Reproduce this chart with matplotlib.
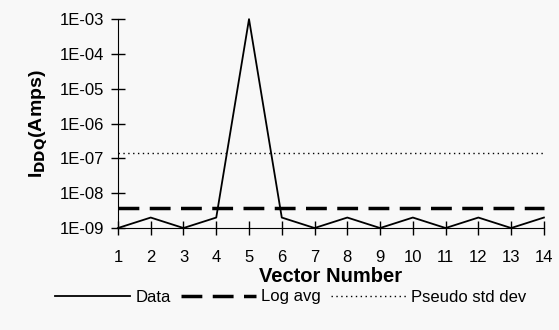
import math
import matplotlib.pyplot as plt
from matplotlib.ticker import FixedLocator, FuncFormatter

plt.rcParams['font.family'] = ['Liberation Sans', 'DejaVu Sans']

vectors = list(range(1, 15))
data = [1e-9, 2e-9, 1e-9, 2e-9, 1e-3, 2e-9, 1e-9, 2e-9, 1e-9, 2e-9, 1e-9, 2e-9, 1e-9, 2e-9]
log_avg = 3.7e-9
pseudo_std = 1.4e-7
y_ticks = [1e-9, 1e-8, 1e-7, 1e-6, 1e-5, 1e-4, 1e-3]

fig = plt.figure(figsize=(5.59, 3.30), dpi=100)
fig.patch.set_facecolor('#f8f8f8')
ax = fig.add_axes([0.211, 0.309, 0.762, 0.633])
ax.set_facecolor('#f8f8f8')

ax.plot(vectors, data, color='black', lw=1.3, label='Data', clip_on=False)
ax.plot([vectors[0], vectors[-1]], [log_avg, log_avg], color='black', lw=2.5,
        dashes=(6, 3), label='Log avg', clip_on=False)
ax.plot([vectors[0], vectors[-1]], [pseudo_std, pseudo_std], color='black', lw=1,
        dashes=(1, 2.5), label='Pseudo std dev', clip_on=False)

ax.set_yscale('log')
ax.set_ylim(1e-9, 1e-3)
ax.set_xlim(1, 14)
ax.yaxis.set_major_locator(FixedLocator(y_ticks))
ax.yaxis.set_minor_locator(FixedLocator([]))
ax.yaxis.set_major_formatter(FuncFormatter(lambda v, p: '1E-%02d' % round(-math.log10(v))))
ax.set_xticks(vectors)

for s in ['top', 'right']:
    ax.spines[s].set_visible(False)

ax.tick_params(axis='x', direction='inout', length=10, width=1, pad=11, labelsize=12)
ax.tick_params(axis='y', direction='inout', length=10, width=1, pad=5, labelsize=12)

ax.set_xlabel('Vector Number', fontsize=14.5, fontweight='bold', labelpad=1)
ax.set_ylabel(r'I$_{\mathbf{DDQ}}$(Amps)', fontsize=14, fontweight='bold', labelpad=7)

fig.legend(loc='center', bbox_to_anchor=(0.52, 0.1), ncol=3, frameon=False,
           fontsize=12, handlelength=4.5, columnspacing=0.6, handletextpad=0.3)

fig.savefig('out.png', dpi=100, facecolor=fig.get_facecolor())
